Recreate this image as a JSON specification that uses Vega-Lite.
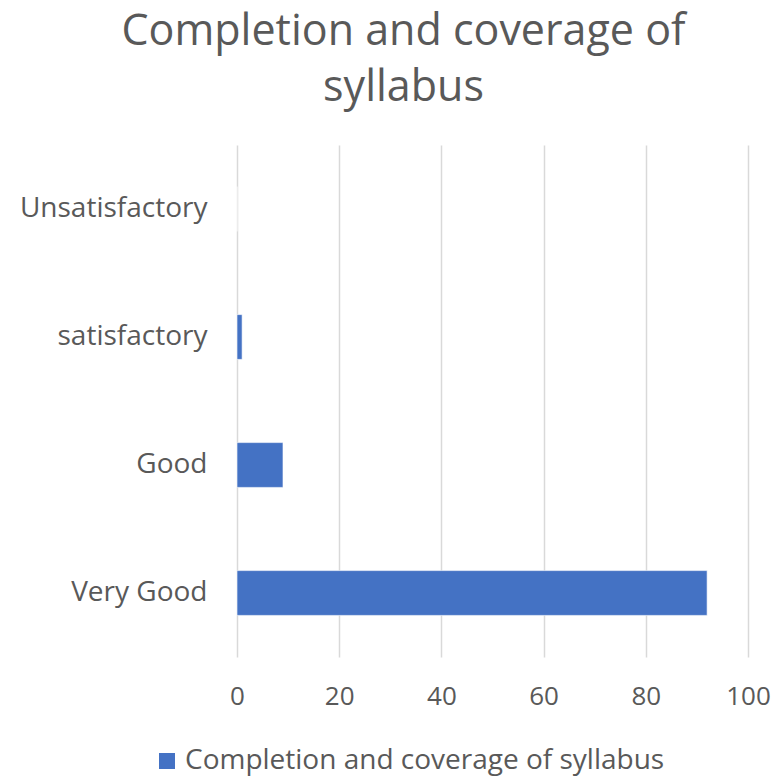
{
  "$schema": "https://vega.github.io/schema/vega-lite/v6.json",
  "autosize": "none",
  "width": 511,
  "height": 512,
  "padding": {"left": 237, "top": 145, "right": 30, "bottom": 121},
  "background": "white",
  "title": {
    "text": ["Completion and coverage of", "syllabus"],
    "font": "Open Sans",
    "fontSize": 43,
    "fontWeight": "normal",
    "color": "#595959",
    "lineHeight": 56,
    "anchor": "middle",
    "dx": -89,
    "offset": 35
  },
  "data": {
    "values": [
      {"rating": "Unsatisfactory", "value": 0, "series": "Completion and coverage of syllabus"},
      {"rating": "satisfactory", "value": 1, "series": "Completion and coverage of syllabus"},
      {"rating": "Good", "value": 9, "series": "Completion and coverage of syllabus"},
      {"rating": "Very Good", "value": 92, "series": "Completion and coverage of syllabus"}
    ]
  },
  "mark": {"type": "bar", "stroke": "white", "strokeWidth": 1, "strokeOpacity": 0.6},
  "encoding": {
    "y": {
      "field": "rating",
      "type": "nominal",
      "sort": ["Unsatisfactory", "satisfactory", "Good", "Very Good"],
      "scale": {"paddingInner": 0.65, "paddingOuter": 0.325},
      "axis": {
        "title": null,
        "domain": false,
        "ticks": false,
        "labelPadding": 30,
        "labelLimit": 400,
        "labelFont": "Open Sans",
        "labelFontSize": 28,
        "labelColor": "#595959"
      }
    },
    "x": {
      "field": "value",
      "type": "quantitative",
      "scale": {"domain": [0, 100], "nice": false},
      "axis": {
        "title": null,
        "values": [0, 20, 40, 60, 80, 100],
        "domain": false,
        "ticks": false,
        "grid": true,
        "gridColor": "#D9D9D9",
        "gridWidth": 1.5,
        "labelPadding": 26,
        "labelFont": "Open Sans",
        "labelFontSize": 26,
        "labelColor": "#595959",
        "labelFlush": false
      }
    },
    "color": {
      "field": "series",
      "type": "nominal",
      "scale": {"range": ["#4472C4"]},
      "legend": {
        "title": null,
        "orient": "none",
        "legendX": -84,
        "legendY": 602,
        "symbolType": "square",
        "symbolSize": 256,
        "symbolStrokeWidth": 0,
        "labelFont": "Open Sans",
        "labelFontSize": 28,
        "labelColor": "#595959",
        "labelLimit": 600,
        "padding": 0
      }
    }
  },
  "config": {
    "view": {"stroke": null}
  }
}
